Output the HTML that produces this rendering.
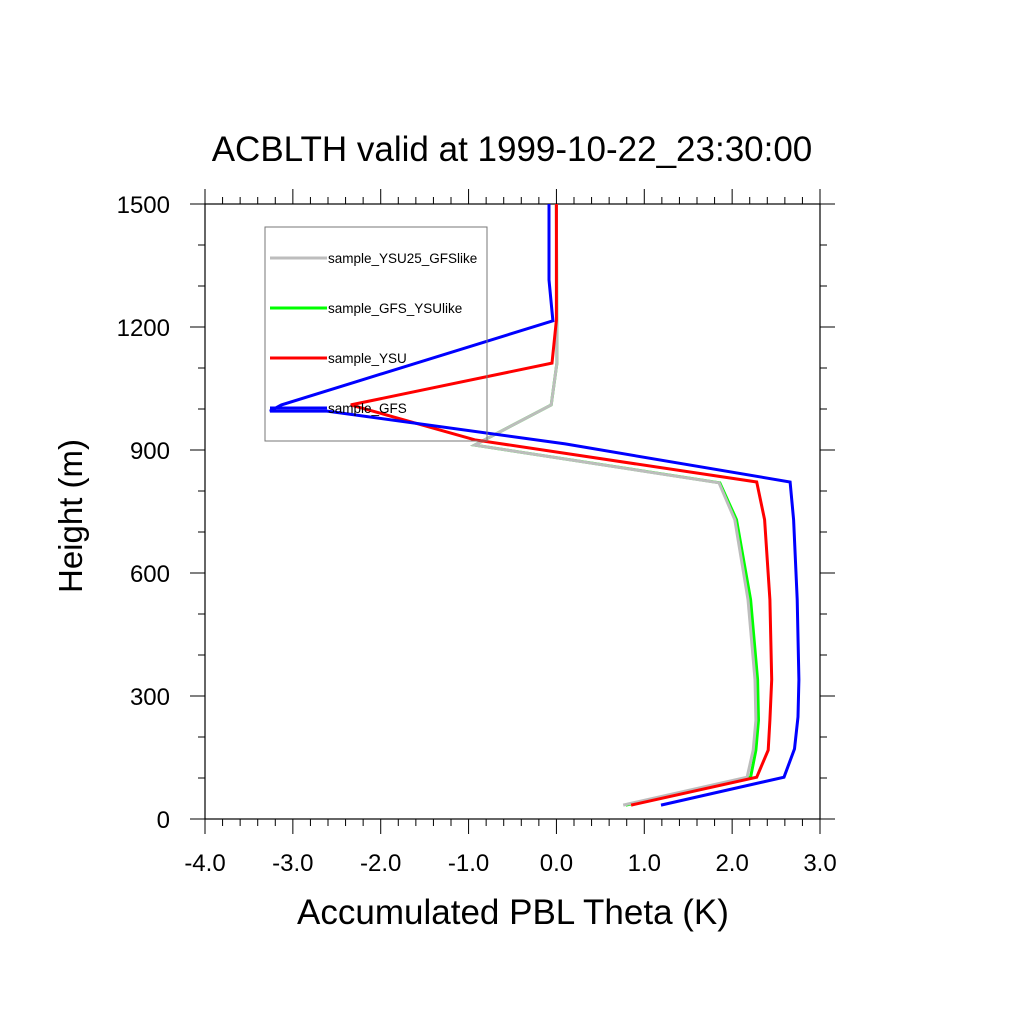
<!DOCTYPE html>
<html><head><meta charset="utf-8"><style>body{margin:0;background:#fff}svg{display:block}</style></head>
<body>
<svg id="chart" width="1024" height="1024" xmlns="http://www.w3.org/2000/svg" font-family="'Liberation Sans', sans-serif">
<rect width="1024" height="1024" fill="#fff"/>
<text x="512" y="161" font-size="35" text-anchor="middle">ACBLTH valid at 1999-10-22_23:30:00</text>
<text x="513" y="924" font-size="35" text-anchor="middle">Accumulated PBL Theta (K)</text>
<text transform="translate(82,516) rotate(-90)" font-size="33" text-anchor="middle">Height (m)</text>
<g id="axes"></g>
<g id="series"></g>
<g id="legend"></g>
</svg>
<script>
const xTicks=[-4,-3,-2,-1,0,1,2,3];
const xTickLabels=["-4.0","-3.0","-2.0","-1.0","0.0","1.0","2.0","3.0"];
const yTicks=[0,300,600,900,1200,1500];
const yTickLabels=["0","300","600","900","1200","1500"];
const seriesNames=["sample_YSU25_GFSlike","sample_GFS_YSUlike","sample_YSU","sample_GFS"];
const seriesColors=["#bdbdbd","#00ff00","#ff0000","#0000ff"];
const gfsX=[-0.085,-0.085,-0.04,-3.13,-3.26,-2.61,0.10,2.66,2.70,2.74,2.76,2.75,2.71,2.59,1.19];
const gfsH=[1500,1315,1215,1010,995,995,915,822,730,535,340,249,171,102,34];
const ysuX=[0,0,-0.05,-2.34,-0.93,2.28,2.37,2.43,2.45,2.43,2.41,2.28,0.85];
const ysuH=[1500,1217,1112,1010,925,822,730,535,340,241,168,102,34];
const gfsYsuX=[0,0.005,-0.06,-0.93,1.86,2.05,2.21,2.29,2.30,2.27,2.21,0.79];
const gfsYsuH=[1500,1112,1010,912,820,730,535,340,241,168,102,34];
const ysu25X=[0,0.005,-0.06,-0.93,1.85,2.03,2.18,2.26,2.27,2.24,2.17,0.76];
const ysu25H=[1500,1112,1010,912,820,730,535,340,241,168,102,34];
const X0=205,X1=820,Y0=819,Y1=204;
const sx=v=>X0+(v+4)/7*(X1-X0);
const sy=v=>Y0-v/1500*(Y0-Y1);
const NS="http://www.w3.org/2000/svg";
function mk(tag,attrs,parent,txt){const e=document.createElementNS(NS,tag);for(const k in attrs)e.setAttribute(k,attrs[k]);if(txt!==undefined)e.textContent=txt;parent.appendChild(e);return e;}
const axes=document.getElementById('axes');
const frame=mk('rect',{x:X0,y:Y1,width:X1-X0,height:Y0-Y1,fill:'none',stroke:'#000','stroke-width':1.2},axes);


for(let v=-4;v<=3.0001;v+=0.2){const r=Math.round(v*10)/10;const maj=Math.abs(r-Math.round(r))<1e-6;const x=sx(r);const L=maj?15:7;
const t1=mk('line',{x1:x,y1:Y0,x2:x,y2:Y0+L,stroke:'#000','stroke-width':1},axes);


const t2=mk('line',{x1:x,y1:Y1,x2:x,y2:Y1-L,stroke:'#000','stroke-width':1},axes);

}
for(let v=0;v<=1500;v+=100){const maj=v%300===0;const y=sy(v);const L=maj?15:7;
const t1=mk('line',{x1:X0,y1:y,x2:X0-L,y2:y,stroke:'#000','stroke-width':1},axes);


const t2=mk('line',{x1:X1,y1:y,x2:X1+L,y2:y,stroke:'#000','stroke-width':1},axes);

}
xTicks.forEach((v,i)=>{const t=mk('text',{x:sx(v),y:871,'font-size':24,'text-anchor':'middle'},axes,xTickLabels[i]);

});
yTicks.forEach((v,i)=>{const t=mk('text',{x:170,y:sy(v)+9,'font-size':24,'text-anchor':'end'},axes,yTickLabels[i]);

});
const ser=document.getElementById('series');
const data=[[ysu25X,ysu25H],[gfsYsuX,gfsYsuH],[ysuX,ysuH],[gfsX,gfsH]];
const order=[1,0,2,3];
order.forEach(i=>{const [xs,hs]=data[i];const pts=xs.map((x,j)=>sx(x).toFixed(1)+','+sy(hs[j]).toFixed(1)).join(' ');
const p=mk('polyline',{points:pts,fill:'none',stroke:seriesColors[i],'stroke-width':3,'stroke-linejoin':'miter'},ser);

});
const leg=document.getElementById('legend');
const box=mk('rect',{x:265,y:227,width:222,height:214,fill:'none',stroke:'#777','stroke-width':1},leg);


seriesNames.forEach((n,i)=>{const y=258+50*i;
const l=mk('line',{x1:270,y1:y,x2:327,y2:y,stroke:seriesColors[i],'stroke-width':3},leg);


const t=mk('text',{x:328,y:y+5,'font-size':13.5},leg,n);

});
</script>
</body></html>
